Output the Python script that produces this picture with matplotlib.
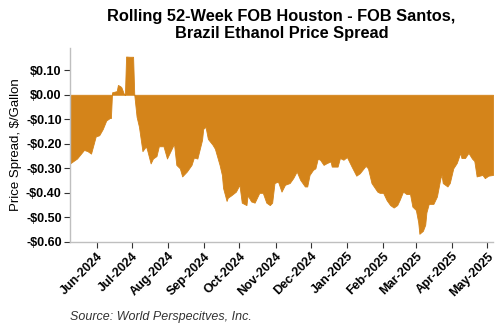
import matplotlib
matplotlib.use("Agg")
import matplotlib.pyplot as plt
import matplotlib.dates as mdates
import numpy as np
import pandas as pd

plt.rcParams['font.family'] = ['Liberation Sans', 'DejaVu Sans']

dates = ["2024-05-09", "2024-05-15", "2024-05-21", "2024-05-24", "2024-05-27", "2024-05-31",
         "2024-06-03", "2024-06-06", "2024-06-09", "2024-06-12", "2024-06-13", "2024-06-14",
         "2024-06-18", "2024-06-19", "2024-06-21", "2024-06-22", "2024-06-24", "2024-06-25",
         "2024-06-26", "2024-06-29", "2024-07-02", "2024-07-03", "2024-07-05", "2024-07-07",
         "2024-07-10", "2024-07-13", "2024-07-14", "2024-07-17", "2024-07-19", "2024-07-22",
         "2024-07-24", "2024-07-26", "2024-07-28", "2024-07-31", "2024-08-02", "2024-08-06",
         "2024-08-08", "2024-08-11", "2024-08-13", "2024-08-17", "2024-08-21", "2024-08-23",
         "2024-08-26", "2024-08-30", "2024-08-31", "2024-09-02", "2024-09-04", "2024-09-08",
         "2024-09-10", "2024-09-14", "2024-09-16", "2024-09-17", "2024-09-20", "2024-09-21",
         "2024-09-24", "2024-09-28", "2024-10-01", "2024-10-03", "2024-10-05", "2024-10-07",
         "2024-10-08", "2024-10-11", "2024-10-14", "2024-10-18", "2024-10-21", "2024-10-24",
         "2024-10-27", "2024-10-29", "2024-10-31", "2024-11-03", "2024-11-06", "2024-11-09",
         "2024-11-13", "2024-11-16", "2024-11-19", "2024-11-22", "2024-11-26", "2024-11-28",
         "2024-11-30", "2024-12-03", "2024-12-05", "2024-12-07", "2024-12-09", "2024-12-12",
         "2024-12-15", "2024-12-18", "2024-12-19", "2024-12-24", "2024-12-26", "2024-12-29",
         "2025-01-01", "2025-01-05", "2025-01-09", "2025-01-12", "2025-01-17", "2025-01-19",
         "2025-01-22", "2025-01-27", "2025-01-29", "2025-02-01", "2025-02-04", "2025-02-07",
         "2025-02-10", "2025-02-13", "2025-02-15", "2025-02-18", "2025-02-21", "2025-02-24",
         "2025-02-26", "2025-03-01", "2025-03-03", "2025-03-04", "2025-03-07", "2025-03-09",
         "2025-03-10", "2025-03-12", "2025-03-16", "2025-03-19", "2025-03-22", "2025-03-23",
         "2025-03-24", "2025-03-28", "2025-03-30", "2025-04-02", "2025-04-05", "2025-04-08",
         "2025-04-09", "2025-04-12", "2025-04-15", "2025-04-18", "2025-04-20", "2025-04-22",
         "2025-04-27", "2025-04-29", "2025-05-02", "2025-05-06"]

spread = [-0.28, -0.26, -0.225, -0.23, -0.24, -0.17,
          -0.165, -0.14, -0.105, -0.095, -0.095, 0.010,
          0.015, 0.040, 0.035, 0.030, 0.005, 0.000,
          0.156, 0.155, 0.155, 0.000, -0.090, -0.130,
          -0.230, -0.210, -0.225, -0.280, -0.260, -0.250,
          -0.210, -0.210, -0.210, -0.260, -0.240, -0.200,
          -0.286, -0.300, -0.333, -0.313, -0.286, -0.256,
          -0.260, -0.184, -0.139, -0.131, -0.180, -0.204,
          -0.220, -0.286, -0.327, -0.380, -0.433, -0.420,
          -0.410, -0.395, -0.367, -0.440, -0.445, -0.450,
          -0.410, -0.435, -0.440, -0.400, -0.400, -0.440,
          -0.450, -0.440, -0.360, -0.354, -0.395, -0.367,
          -0.360, -0.340, -0.313, -0.347, -0.374, -0.374,
          -0.327, -0.306, -0.300, -0.261, -0.265, -0.286,
          -0.278, -0.272, -0.293, -0.293, -0.258, -0.265,
          -0.254, -0.293, -0.330, -0.320, -0.290, -0.300,
          -0.360, -0.395, -0.400, -0.400, -0.430, -0.450,
          -0.460, -0.450, -0.430, -0.395, -0.405, -0.405,
          -0.456, -0.470, -0.520, -0.567, -0.555, -0.530,
          -0.480, -0.445, -0.445, -0.415, -0.340, -0.327,
          -0.360, -0.374, -0.360, -0.300, -0.278, -0.237,
          -0.258, -0.258, -0.237, -0.260, -0.270, -0.333,
          -0.327, -0.340, -0.330, -0.327]

y_ticks = [0.10, 0.00, -0.10, -0.20, -0.30, -0.40, -0.50, -0.60]
x_tick_dates = pd.date_range("2024-06-01", "2025-05-01", freq="MS")

x = pd.to_datetime(dates)
y = np.array(spread)

fig = plt.figure(figsize=(5, 3.3), dpi=100)
ax = fig.add_axes([0.14, 0.267, 0.846, 0.587])

color = "#D4841A"
ax.fill_between(x, y, 0, color=color, linewidth=0.6, edgecolor=color)

ax.set_xlim(x[0], x[-1])
ax.set_ylim(-0.6, 0.19)

ax.set_yticks(y_ticks)
def fmt(v):
    return ("-$%.2f" % abs(v)) if v < -1e-9 else ("$%.2f" % abs(v))
ax.set_yticklabels([fmt(v) for v in y_ticks], fontweight="bold", fontsize=9)

ax.set_xticks(x_tick_dates)
ax.set_xticklabels([d.strftime("%b-%Y") for d in x_tick_dates], rotation=45,
                   ha="right", rotation_mode="anchor", fontweight="bold", fontsize=9)

for s in ["top", "right"]:
    ax.spines[s].set_visible(False)
for s in ["left", "bottom"]:
    ax.spines[s].set_color("#BFBFBF")
    ax.spines[s].set_linewidth(1.0)
ax.tick_params(axis="both", length=4, width=0.8, color="#333333", pad=2)

ax.set_ylabel("Price Spread, $/Gallon", fontsize=9.5, labelpad=3)

fig.text(0.563, 0.972, "Rolling 52-Week FOB Houston - FOB Santos,\nBrazil Ethanol Price Spread",
         ha="center", va="top", fontsize=11.8, fontweight="bold", linespacing=1.15)
fig.text(0.14, 0.03, "Source: World Perspecitves, Inc.", fontsize=9, style="italic",
         color="#333333")

fig.savefig("out.png", dpi=100)
